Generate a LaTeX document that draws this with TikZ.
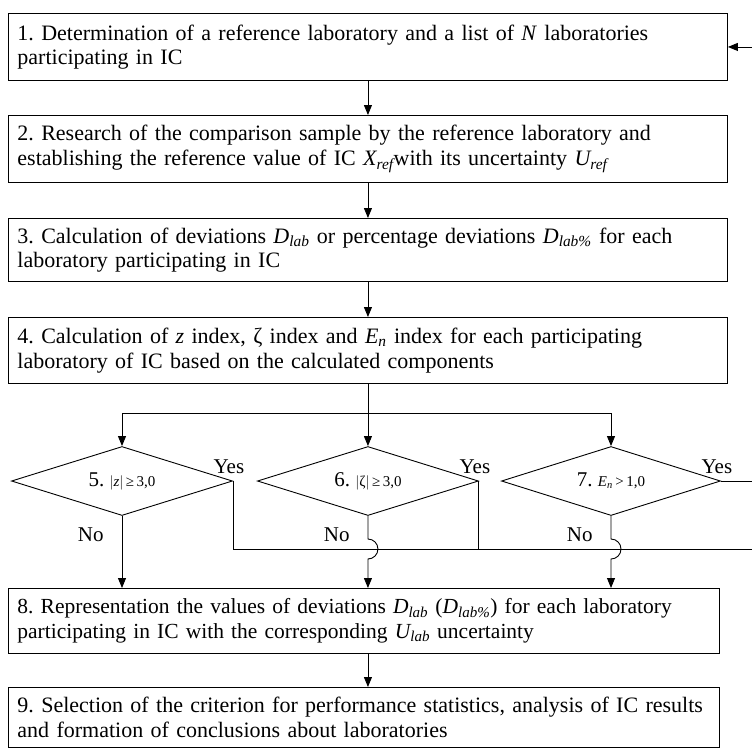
\documentclass[tikz,border=0pt]{standalone}
\usepackage{fontspec}
\setmainfont{Liberation Serif}
\usetikzlibrary{arrows.meta,calc,shapes.geometric}
\frenchspacing

\tikzset{
  stepbox/.style={draw, anchor=north west, align=left, text width=#1,
    inner xsep=9pt, inner ysep=0pt, font=\fontsize{22}{24.5}\selectfont},
  cond/.style={draw, diamond, aspect=3.2, minimum width=221pt,
    minimum height=69pt, inner sep=0pt, font=\fontsize{21}{24}\selectfont},
  lbl/.style={inner sep=0pt, font=\fontsize{21}{24}\selectfont},
}
\newcommand{\sm}{\fontsize{15}{15}\selectfont}

\begin{document}
\begin{tikzpicture}[x=1pt, y=1pt, line width=0.9pt,
    >={Triangle[length=10pt,width=8pt]}]

  \useasboundingbox (0,0) rectangle (752,-748);

  % --- Steps 1-4 ---
  \node[stepbox=701pt, minimum height=67pt] (b1) at (8,-13)
    {1. Determination of a reference laboratory and a list of \textit{N} laboratories\\
     participating in IC};
  \node[stepbox=701pt, minimum height=67pt] (b2) at (8,-115)
    {2. Research of the comparison sample by the reference laboratory and\\
     establishing the reference value of IC \textit{X\textsubscript{ref}}with its uncertainty \textit{U\textsubscript{ref}}};
  \node[stepbox=701pt, minimum height=63pt] (b3) at (8,-218)
    {3. Calculation of deviations \textit{D\textsubscript{lab}} or percentage deviations \textit{D\textsubscript{lab\%}} for each\\
     laboratory participating in IC};
  \node[stepbox=701pt, minimum height=66pt] (b4) at (8,-317)
    {4. Calculation of \textit{z} index, ζ index and \textit{E\textsubscript{n}} index for each participating\\
     laboratory of IC based on the calculated components};

  % --- Checks 5-7 ---
  \node[cond] (d5) at (122,-481) {5. {\sm$|$\textit{z}$|$\,≥\,3,0}};
  \node[cond] (d6) at (b4.south |- 0,-481) {6. {\sm$|$ζ$|$\,≥\,3,0}};
  \node[cond, minimum width=219pt] (d7) at (611,-481)
    {7. {\sm\textit{E\textsubscript{n}}\,>\,1,0}};

  % --- Steps 8-9 ---
  \node[stepbox=693pt, minimum height=65pt, font=\fontsize{21.5}{24.5}\selectfont] (b8) at (8,-588)
    {8. Representation the values of deviations \textit{D\textsubscript{lab}} (\textit{D\textsubscript{lab\%}}) for each laboratory\\
     participating in IC with the corresponding \textit{U\textsubscript{lab}} uncertainty};
  \node[stepbox=693pt, minimum height=60pt] (b9) at (8,-687)
    {9. Selection of the criterion for performance statistics, analysis of IC results\\
     and formation of conclusions about laboratories};

  % --- Main flow ---
  \draw[->] (b1) -- (b2);
  \draw[->] (b2) -- (b3);
  \draw[->] (b3) -- (b4);
  \coordinate (split) at (b4.south |- 0,-413);
  \draw[->] (b4.south) -- (d6.north);
  \draw[->] (split) -| (d5.north);
  \draw[->] (split) -| (d7.north);

  % --- Yes: back to step 1 ---
  \coordinate (back) at (752,-549);
  \coordinate (back7) at (752,-481);
  \coordinate (back1) at (b1.east -| back);
  \draw (d5.east) |- (back);
  \draw (d6.east) -- (d6.east |- back);
  \draw (d7.east) -- (back7);
  \draw[->] (back1) -- (b1.east);

  % --- No: to step 8 (hops over the Yes line) ---
  \draw[->] (d5.south) -- (d5.south |- b8.north);
  \draw[->] (d6.south) -- ($(d6.south |- back)+(0,10)$)
    arc[start angle=90, end angle=-90, radius=10] -- (d6.south |- b8.north);
  \draw[->] (d7.south) -- ($(d7.south |- back)+(0,10)$)
    arc[start angle=90, end angle=-90, radius=10] -- (d7.south |- b8.north);
  \draw[->] (b8.south -| d6.south) -- (b9.north -| d6.south);

  % --- Labels ---
  \foreach \d in {d5,d6,d7} {
    \node[lbl, anchor=base, xshift=-4pt, yshift=8pt] at (\d.east) {Yes};
    \node[lbl, anchor=base east, xshift=-18pt, yshift=-26pt] at (\d.south) {No};
  }

\end{tikzpicture}
\end{document}
